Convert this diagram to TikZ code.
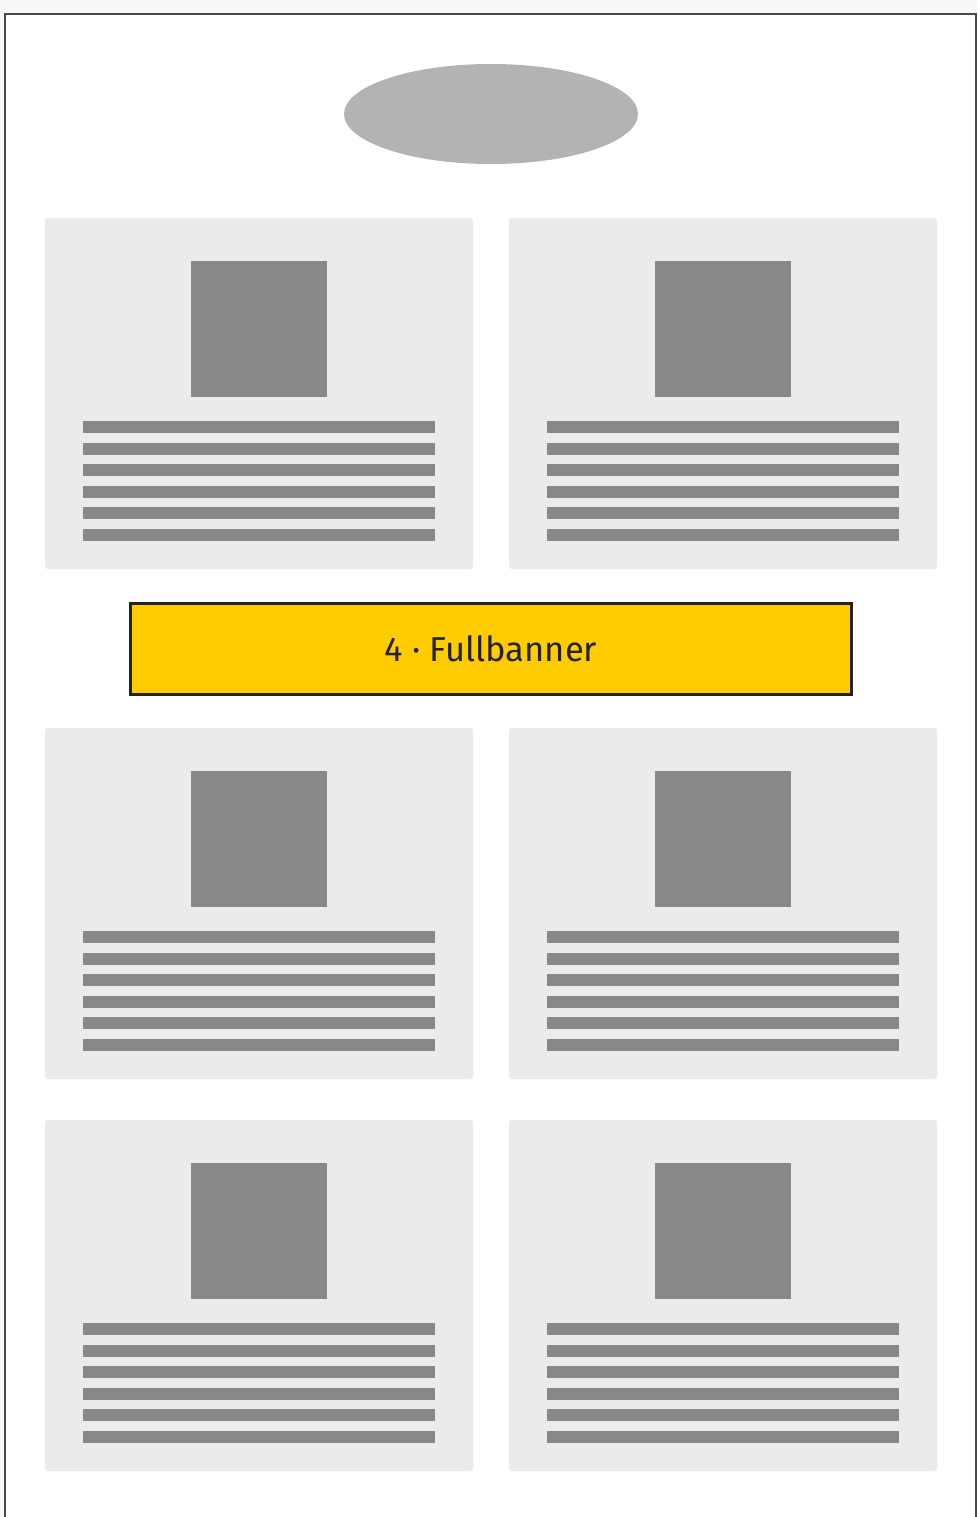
\documentclass[tikz,border=0pt]{standalone}
\usepackage{fontspec}
\newfontfamily\bannerfont{Fira Sans}
\usetikzlibrary{shapes.geometric}
\definecolor{pagebg}{HTML}{F7F8F8}
\definecolor{cardbg}{HTML}{EBEBEB}
\definecolor{block}{HTML}{888888}
\definecolor{logo}{HTML}{B3B3B3}
\definecolor{banner}{HTML}{FFCC00}
\definecolor{frame}{HTML}{4A4A4A}
\definecolor{ink}{HTML}{222222}
\tikzset{
  card/.style={fill=cardbg, draw=none, rounded corners=3pt},
  imgbox/.style={fill=block, draw=none},
  textline/.style={fill=block, draw=none},
  logobox/.style={ellipse, fill=logo, draw=none, minimum width=294pt, minimum height=100pt, inner sep=0pt},
  bannerbox/.style={rectangle, fill=banner, draw=ink, line width=2.4pt, minimum width=721pt, minimum height=91pt, inner sep=0pt, font=\bannerfont\fontsize{34.5}{40}\selectfont, text=ink}
}
\begin{document}
\begin{tikzpicture}[x=1pt,y=-1pt]
\useasboundingbox (0,0) rectangle (977,1517);
\fill[pagebg] (0,0) rectangle (977,1517);
\draw[frame, line width=1.3pt, fill=white] (5,1530) -- (5,14) -- (976,14) -- (976,1530);
\node[logobox] (logo) at (491,114) {};
% cards
\foreach \r/\y in {1/218, 2/728, 3/1120} {
  \foreach \c/\x in {1/45, 2/509} {
    \path[card] (\x,\y) rectangle ++(428,351);
    \path[imgbox] (\x+146,\y+43) rectangle ++(136,136);
    \foreach \k in {0,...,5} {
      \path[textline] (\x+38,\y+203+\k*21.6) rectangle ++(352,12);
    }
  }
}
\node[bannerbox] (banner) at (491,649) {4 · Fullbanner};
\end{tikzpicture}
\end{document}
